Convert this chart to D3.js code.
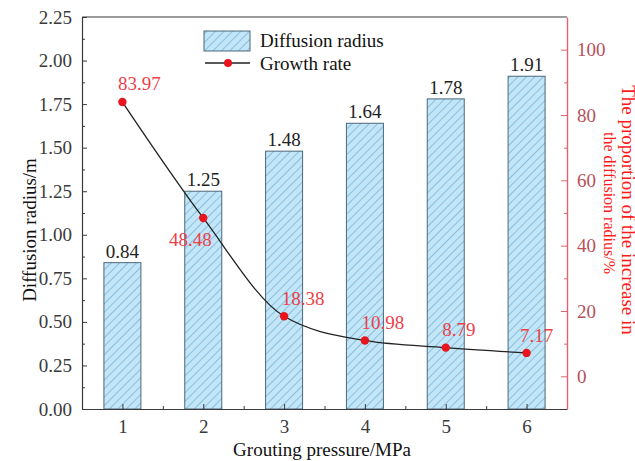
<!DOCTYPE html>
<html>
<head>
<meta charset="utf-8">
<script src="https://cdn.jsdelivr.net/npm/d3@7"></script>
<style>
  html, body { margin: 0; padding: 0; background: #fff; }
  svg { display: block; }
  text { font-family: "Liberation Serif", "Times New Roman", serif; }
</style>
</head>
<body>
<svg id="chart" width="635" height="461"></svg>
<script>
// Grouting pressure (MPa) categories
const pressures = [1, 2, 3, 4, 5, 6];
// Diffusion radius (m) for each pressure
const radius = [0.84, 1.25, 1.48, 1.64, 1.78, 1.91];
// Proportion of the increase in the diffusion radius (%)
const growth = [83.97, 48.48, 18.38, 10.98, 8.79, 7.17];
// Axis ticks
const leftTicks = [0, 0.25, 0.5, 0.75, 1, 1.25, 1.5, 1.75, 2, 2.25];
const rightTicks = [0, 20, 40, 60, 80, 100];

// Label nudges for the growth-rate annotations (dx, dy in px)
const growthLabelShift = [[17, -12], [-13, 28], [19, -11], [18, -11], [13, -12], [10, -11]];

const SERIF = "Liberation Serif, Times New Roman, serif";
const FS = 19;

const svg = d3.select("#chart");
const M = { left: 82, right: 567, top: 17, bottom: 409 };

const x = d3.scaleLinear().domain([0.5, 6.5]).range([M.left, M.right]);
const yL = d3.scaleLinear().domain([0, 2.25]).range([M.bottom, M.top]);
const yR = d3.scaleLinear().domain([-10, 110]).range([M.bottom, M.top]);

const frameColor = "#3a3a3a";
const redAxis = "#e06470";
const redTick = "#b8505a";

// Hatch pattern for bars
const defs = svg.append("defs");
const pat = defs.append("pattern")
  .attr("id", "hatch").attr("patternUnits", "userSpaceOnUse")
  .attr("width", 6).attr("height", 6)
  .attr("patternTransform", "rotate(45)");
pat.append("rect").attr("width", 6).attr("height", 6).attr("fill", "#c2e6f7");
pat.append("line").attr("x1", 0).attr("y1", 0).attr("x2", 0).attr("y2", 6)
  .attr("stroke", "#6aa8d2").attr("stroke-width", 1.3);

const barW = 37;

// Bars
svg.append("g").selectAll("rect").data(radius).join("rect")
  .attr("x", (d, i) => x(pressures[i]) - barW / 2)
  .attr("y", d => yL(d))
  .attr("width", barW)
  .attr("height", d => yL(0) - yL(d))
  .attr("fill", "url(#hatch)")
  .attr("stroke", "#4d6878").attr("stroke-width", 1);

// Bar value labels
svg.append("g").selectAll("text").data(radius).join("text")
  .attr("x", (d, i) => x(pressures[i]))
  .attr("y", d => yL(d) - 5)
  .attr("text-anchor", "middle")
  .attr("font-family", SERIF)
  .attr("font-size", FS).attr("fill", "#222")
  .text(d => d.toFixed(2));

// Frame: top line
svg.append("line").attr("x1", M.left).attr("x2", M.right).attr("y1", M.top).attr("y2", M.top)
  .attr("stroke", frameColor).attr("stroke-width", 1.2);

// Bottom axis
const xAxis = svg.append("g").attr("transform", `translate(0,${M.bottom})`)
  .call(d3.axisBottom(x).tickValues(pressures).tickSizeInner(-5).tickSizeOuter(0).tickPadding(10.5).tickFormat(d3.format("d")));
const xMinor = svg.append("g").attr("transform", `translate(0,${M.bottom})`)
  .call(d3.axisBottom(x).tickValues([1.5, 2.5, 3.5, 4.5, 5.5]).tickSizeInner(-3).tickSizeOuter(0).tickFormat(""));
xMinor.select(".domain").remove();

// Left axis
const yAxisL = svg.append("g").attr("transform", `translate(${M.left},0)`)
  .call(d3.axisLeft(yL).tickValues(leftTicks).tickSizeInner(-5).tickSizeOuter(0).tickPadding(10).tickFormat(d3.format(".2f")));
const yMinorL = svg.append("g").attr("transform", `translate(${M.left},0)`)
  .call(d3.axisLeft(yL).tickValues(d3.range(0.125, 2.25, 0.25)).tickSizeInner(-3).tickSizeOuter(0).tickFormat(""));
yMinorL.select(".domain").remove();

[xAxis, yAxisL, xMinor, yMinorL].forEach(g => {
  g.attr("font-family", SERIF);
  g.selectAll(".domain").attr("stroke", frameColor).attr("stroke-width", 1.2);
  g.selectAll(".tick line").attr("stroke", frameColor);
  g.selectAll(".tick text").attr("font-family", SERIF).attr("font-size", FS).attr("fill", "#3a3a3a");
});

// Right axis (red)
const yAxisR = svg.append("g").attr("transform", `translate(${M.right},0)`)
  .call(d3.axisRight(yR).tickValues(rightTicks).tickSizeInner(-6).tickSizeOuter(0).tickPadding(10));
const yMinorR = svg.append("g").attr("transform", `translate(${M.right},0)`)
  .call(d3.axisRight(yR).tickValues([10, 30, 50, 70, 90]).tickSizeInner(-3).tickSizeOuter(0).tickFormat(""));
yMinorR.select(".domain").remove();
yMinorR.selectAll(".tick line").attr("stroke", redAxis);
yAxisR.attr("font-family", SERIF);
yAxisR.select(".domain").attr("stroke", redAxis).attr("stroke-width", 1.4);
yAxisR.selectAll(".tick line").attr("stroke", redAxis);
yAxisR.selectAll(".tick text").attr("font-family", SERIF).attr("font-size", FS).attr("fill", redTick);

// Growth-rate line
const line = d3.line()
  .x((d, i) => x(pressures[i]))
  .y(d => yR(d))
  .curve(d3.curveMonotoneX);
svg.append("path").datum(growth)
  .attr("d", line).attr("fill", "none").attr("stroke", "#222").attr("stroke-width", 1.3);

svg.append("g").selectAll("circle").data(growth).join("circle")
  .attr("cx", (d, i) => x(pressures[i]))
  .attr("cy", d => yR(d))
  .attr("r", 4.2).attr("fill", "#e8141e");

svg.append("g").selectAll("text").data(growth).join("text")
  .attr("x", (d, i) => x(pressures[i]) + growthLabelShift[i][0])
  .attr("y", (d, i) => yR(d) + growthLabelShift[i][1])
  .attr("text-anchor", "middle")
  .attr("font-family", SERIF)
  .attr("font-size", FS).attr("fill", "#ec4048")
  .text(d => d.toFixed(2));

// Axis titles
svg.append("text")
  .attr("transform", `translate(36,230) rotate(-90)`)
  .attr("text-anchor", "middle").attr("font-family", SERIF).attr("font-size", FS).attr("fill", "#111")
  .text("Diffusion radius/m");

svg.append("text")
  .attr("x", 322).attr("y", 456)
  .attr("text-anchor", "middle").attr("font-family", SERIF).attr("font-size", FS).attr("fill", "#111")
  .text("Grouting pressure/MPa");

svg.append("text")
  .attr("transform", `translate(622,210) rotate(90)`)
  .attr("text-anchor", "middle").attr("font-family", SERIF).attr("font-size", FS).attr("fill", "#ff1a1a")
  .text("The proportion of the increase in");
svg.append("text")
  .attr("transform", `translate(604,203) rotate(90)`)
  .attr("text-anchor", "middle").attr("font-family", SERIF).attr("font-size", 16).attr("fill", "#ff1a1a")
  .text("the diffusion radius/%");

// Legend
const lg = svg.append("g");
lg.append("rect").attr("x", 204).attr("y", 31).attr("width", 46).attr("height", 20)
  .attr("fill", "url(#hatch)").attr("stroke", "#4d6878");
lg.append("text").attr("x", 260).attr("y", 47).attr("font-family", SERIF).attr("font-size", FS).attr("fill", "#111")
  .text("Diffusion radius");
lg.append("line").attr("x1", 205).attr("x2", 250).attr("y1", 63).attr("y2", 63)
  .attr("stroke", "#222").attr("stroke-width", 1.3);
lg.append("circle").attr("cx", 228).attr("cy", 63).attr("r", 4).attr("fill", "#e8141e");
lg.append("text").attr("x", 260).attr("y", 70).attr("font-family", SERIF).attr("font-size", FS).attr("fill", "#111")
  .text("Growth rate");
</script>
</body>
</html>
